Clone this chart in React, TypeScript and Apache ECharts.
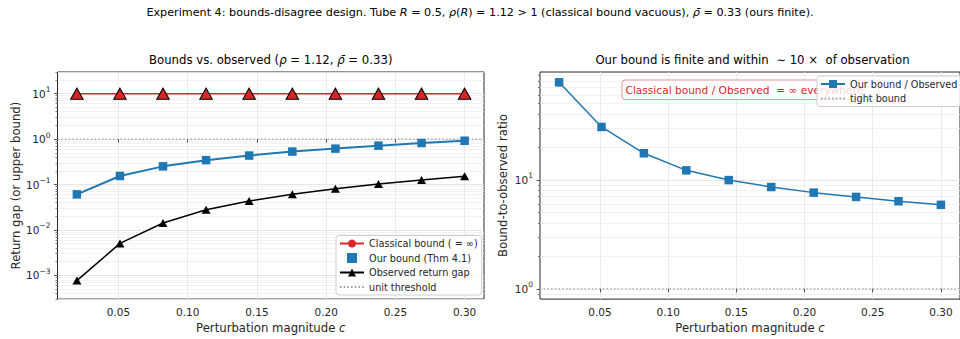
import React, { useEffect, useRef } from "react";
import * as echarts from "echarts";

// ---------------- data ----------------
const cValues = [0.02, 0.0511, 0.0822, 0.1133, 0.1444, 0.1756, 0.2067, 0.2378, 0.2689, 0.3];
// classical bound is infinite; drawn at a placeholder height of 10
const classicalBound = [10, 10, 10, 10, 10, 10, 10, 10, 10, 10];
const ourBound = [0.0607, 0.154, 0.251, 0.344, 0.434, 0.531, 0.617, 0.716, 0.819, 0.92];
const observedGap = [0.000766, 0.00505, 0.0142, 0.0277, 0.0435, 0.0607, 0.0805, 0.103, 0.126, 0.152];
const boundRatio = [78.3, 30.5, 17.5, 12.2, 9.93, 8.58, 7.62, 6.96, 6.35, 5.89];
const unitLevel = 1;
const xTicks = [0.05, 0.1, 0.15, 0.2, 0.25, 0.3];
const leftMajorExp = [-3, -2, -1, 0, 1];
const rightMajorExp = [0, 1];
const xRange = [0.006, 0.314];
const leftYRange = [3e-4, 30];
const rightYRange = [0.804, 97.4];

const FONT = "DejaVu Sans";
const INK = "#262626";
const RED = "#d62728";
const BLUE = "#1f77b4";

const lg = (v: number) => Math.log10(v);

function minorExps(lo: number, hi: number): number[] {
  const out: number[] = [];
  for (let n = Math.floor(lg(lo)) - 1; n <= Math.ceil(lg(hi)); n++) {
    for (let k = 2; k <= 9; k++) {
      const v = k * Math.pow(10, n);
      if (v >= lo && v <= hi) out.push(lg(v));
    }
  }
  return out;
}

const powLabel = (v: number) => {
  const e = Math.round(v);
  const s = e < 0 ? "\u2212" + String(-e) : String(e);
  return `{b|10}{s|${s}}`;
};

const powRich = {
  b: { fontSize: 10.5, fontFamily: FONT, color: INK, lineHeight: 14 },
  s: { fontSize: 7.5, fontFamily: FONT, color: INK, padding: [0, 0, 8, 0] },
};

function xAxisFor(gridIndex: number) {
  return {
    gridIndex,
    type: "value",
    min: xRange[0],
    max: xRange[1],
    axisLine: { show: false },
    axisTick: { show: true, length: 3.5, customValues: xTicks, lineStyle: { color: INK, width: 0.8 } },
    axisLabel: {
      customValues: xTicks,
      formatter: (v: number) => v.toFixed(2),
      fontSize: 10.5,
      fontFamily: FONT,
      color: INK,
      margin: 7,
    },
    splitLine: { show: true, lineStyle: { color: "#e4e4e4", width: 0.8 } },
    name: "{n|Perturbation magnitude }{i|c}",
    nameLocation: "middle",
    nameGap: 20,
    nameTextStyle: {
      rich: {
        n: { fontSize: 11.7, fontFamily: FONT, color: INK },
        i: { fontSize: 11.7, fontFamily: FONT, color: INK, fontStyle: "italic" },
      },
    },
  };
}

function yMajorFor(gridIndex: number, range: number[], majors: number[], name: string, nameGap: number) {
  return {
    gridIndex,
    type: "value",
    position: "left",
    min: lg(range[0]),
    max: lg(range[1]),
    axisLine: { show: false },
    axisTick: { show: true, length: 3.5, customValues: majors, lineStyle: { color: INK, width: 0.8 } },
    axisLabel: {
      customValues: majors,
      formatter: powLabel,
      rich: powRich,
      margin: 7,
    },
    splitLine: { show: true, lineStyle: { color: "#dedede", width: 0.8 } },
    name,
    nameLocation: "middle",
    nameGap,
    nameTextStyle: { fontSize: 11.7, fontFamily: FONT, color: INK },
  };
}

function yMinorFor(gridIndex: number, range: number[]) {
  const minors = minorExps(range[0], range[1]);
  return {
    gridIndex,
    type: "value",
    position: "left",
    min: lg(range[0]),
    max: lg(range[1]),
    axisLine: { show: false },
    axisTick: { show: true, length: 2, customValues: minors, lineStyle: { color: INK, width: 0.6 } },
    axisLabel: { show: false },
    splitLine: { show: true, lineStyle: { color: "#efefef", width: 0.8 } },
  };
}

const rich = (size: number, color: string) => ({
  n: { fontSize: size, fontFamily: FONT, fill: color },
  i: { fontSize: size, fontFamily: FONT, fill: color, fontStyle: "italic" },
});

export default function App() {
  const ref = useRef<HTMLDivElement>(null);

  useEffect(() => {
    if (!ref.current) return;
    const chart = echarts.init(ref.current, undefined, { renderer: "svg" });

    const legendBase = {
      orient: "vertical",
      itemWidth: 24,
      itemHeight: 10,
      itemGap: 4.5,
      padding: [3, 4, 3, 3],
      backgroundColor: "rgba(255,255,255,0.8)",
      borderColor: "#d0d0d0",
      borderWidth: 1,
      borderRadius: 3,
      selectedMode: false,
      z: 10,
      textStyle: { fontSize: 9.7, fontFamily: FONT, color: INK, lineHeight: 10 },
    };

    const option: any = {
      animation: false,
      backgroundColor: "#ffffff",
      grid: [
        { left: 57.5, top: 72, width: 426.5, height: 229.5, show: true, borderColor: INK, borderWidth: 1, backgroundColor: "transparent" },
        { left: 540, top: 72, width: 425, height: 229.5, show: true, borderColor: INK, borderWidth: 1, backgroundColor: "transparent" },
      ],
      xAxis: [xAxisFor(0), xAxisFor(1)],
      yAxis: [
        yMajorFor(0, leftYRange, leftMajorExp, "Return gap (or upper bound)", 36),
        yMinorFor(0, leftYRange),
        yMajorFor(1, rightYRange, rightMajorExp, "Bound-to-observed ratio", 31),
        yMinorFor(1, rightYRange),
      ],
      legend: [
        {
          ...legendBase,
          left: 336,
          top: 235.5,
          data: [
            { name: "Classical bound ( = \u221e)" },
            { name: "Our bound (Thm 4.1)", icon: "path://M0 0H10V10H0Z" },
            { name: "Observed return gap" },
            { name: "unit threshold" },
          ],
        },
        {
          ...legendBase,
          left: 817,
          top: 76,
          data: [{ name: "Our bound / Observed" }, { name: "tight bound" }],
        },
      ],
      series: [
        {
          name: "unit threshold",
          type: "line",
          xAxisIndex: 0,
          yAxisIndex: 0,
          data: [[xRange[0], lg(unitLevel)], [xRange[1], lg(unitLevel)]],
          symbol: "none",
          itemStyle: { color: "rgba(0,0,0,0)" },
          lineStyle: { color: "#a0a0a0", width: 1.2, type: [1.5, 2.2] },
          z: 2,
        },
        {
          name: "Classical bound ( = \u221e)",
          type: "line",
          xAxisIndex: 0,
          yAxisIndex: 0,
          symbol: "circle",
          symbolSize: 9,
          itemStyle: { color: RED },
          lineStyle: { color: RED, width: 1.5 },
          data: cValues.map((c, i) => ({
            value: [c, lg(classicalBound[i])],
            symbol: "triangle",
            symbolSize: [12.5, 11],
            itemStyle: { color: RED, borderColor: "#000", borderWidth: 1 },
          })),
          z: 3,
        },
        {
          name: "Our bound (Thm 4.1)",
          type: "line",
          xAxisIndex: 0,
          yAxisIndex: 0,
          symbol: "rect",
          symbolSize: 8.5,
          itemStyle: { color: BLUE },
          lineStyle: { color: BLUE, width: 2 },
          data: cValues.map((c, i) => [c, lg(ourBound[i])]),
          z: 4,
        },
        {
          name: "Observed return gap",
          type: "line",
          xAxisIndex: 0,
          yAxisIndex: 0,
          symbol: "triangle",
          symbolSize: [9, 8],
          itemStyle: { color: "#000" },
          lineStyle: { color: "#000", width: 1.5 },
          data: cValues.map((c, i) => [c, lg(observedGap[i])]),
          z: 4,
        },
        {
          name: "tight bound",
          type: "line",
          xAxisIndex: 1,
          yAxisIndex: 2,
          data: [[xRange[0], lg(unitLevel)], [xRange[1], lg(unitLevel)]],
          symbol: "none",
          itemStyle: { color: "rgba(0,0,0,0)" },
          lineStyle: { color: "#a0a0a0", width: 1.2, type: [1.5, 2.2] },
          z: 2,
        },
        {
          name: "Our bound / Observed",
          type: "line",
          xAxisIndex: 1,
          yAxisIndex: 2,
          symbol: "rect",
          symbolSize: 8.5,
          itemStyle: { color: BLUE },
          lineStyle: { color: BLUE, width: 1.5 },
          data: cValues.map((c, i) => [c, lg(boundRatio[i])]),
          z: 4,
        },
      ],
      graphic: [
        {
          type: "text",
          z: 20,
          style: {
            x: 480,
            y: 12,
            align: "center",
            verticalAlign: "middle",
            textAlign: "center",
            textVerticalAlign: "middle",
            text:
              "{n|Experiment 4: bounds-disagree design. Tube }{i|R}{n| = 0.5, }{i|\u03c1}{n|(}{i|R}{n|) = 1.12 > 1 (classical bound vacuous), }{i|\u03c1\u0304}{n| = 0.33 (ours finite).}",
            rich: rich(11.2, "#000"),
          },
        },
        {
          type: "text",
          z: 20,
          style: {
            x: 270.75,
            y: 60,
            align: "center",
            verticalAlign: "middle",
            textAlign: "center",
            textVerticalAlign: "middle",
            text: "{n|Bounds vs. observed (}{i|\u03c1}{n| = 1.12, }{i|\u03c1\u0304}{n| = 0.33)}",
            rich: rich(11.7, "#000"),
          },
        },
        {
          type: "text",
          z: 20,
          style: {
            x: 752.5,
            y: 60,
            align: "center",
            verticalAlign: "middle",
            textAlign: "center",
            textVerticalAlign: "middle",
            text: "{n|Our bound is finite and within  \u223c 10 \u00d7  of observation}",
            rich: rich(11.7, "#000"),
          },
        },
        {
          type: "rect",
          z: 5,
          shape: { x: 622, y: 80, width: 257, height: 19.5, r: 3 },
          style: { fill: "rgba(255,255,255,0.85)", stroke: "#eb9394", lineWidth: 1 },
        },
        {
          type: "text",
          z: 6,
          style: {
            x: 625.5,
            y: 90,
            align: "left",
            verticalAlign: "middle",
            textAlign: "left",
            textVerticalAlign: "middle",
            text: "Classical bound / Observed  = \u221e everywhere",
            fontSize: 10.6,
            fontFamily: FONT,
            fill: RED,
          },
        },
      ],
    };

    chart.setOption(option);
    return () => chart.dispose();
  }, []);

  return (
    <div
      ref={ref}
      style={{ position: "fixed", left: 0, top: 0, width: 960, height: 339, background: "#fff" }}
    />
  );
}
